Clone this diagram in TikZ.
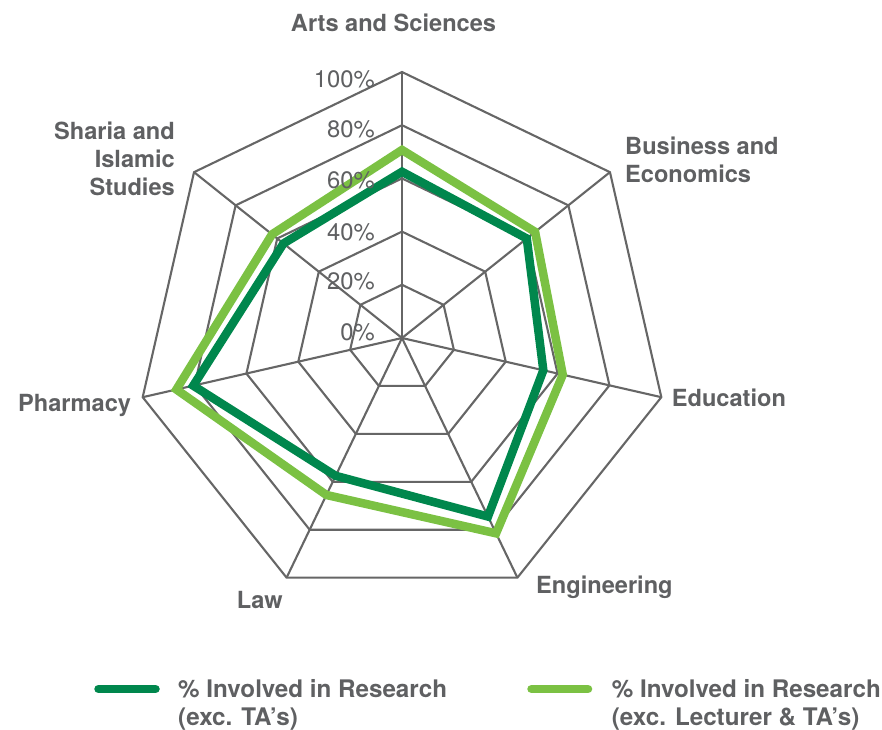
\documentclass[tikz,border=0pt]{standalone}
\usepackage{fontspec}
\setmainfont{TeX Gyre Heros}
\usetikzlibrary{calc}
\definecolor{gridgray}{HTML}{666666}
\definecolor{txtgray}{HTML}{5F6062}
\definecolor{darkg}{HTML}{00874D}
\definecolor{lightg}{HTML}{7BC143}
\tikzset{
  gridline/.style={draw=gridgray, line width=2.1pt, line join=miter},
  serieslight/.style={draw=lightg, line width=8.5pt, line join=miter},
  seriesdark/.style={draw=darkg, line width=8.5pt, line join=miter},
  legendlight/.style={draw=lightg, line width=8.5pt, line cap=round},
  legenddark/.style={draw=darkg, line width=8.5pt, line cap=round},
  catlabel/.style={text=txtgray, inner sep=0pt, font=\fontsize{23.6}{28.4}\selectfont\bfseries},
  legtext/.style={text=txtgray, inner sep=0pt, font=\fontsize{24.2}{28}\selectfont\bfseries},
  pctlabel/.style={text=txtgray, inner sep=0pt, font=\fontsize{23.8}{28}\selectfont, anchor=base east},
}
\begin{document}
\begin{tikzpicture}[x=1pt,y=-1pt]
\useasboundingbox (0,0) rectangle (882,729);
\coordinate (c) at (402,338);
% rings
\foreach \r in {1,...,5} {
  \draw[gridline] ($(c)+(90:{53.2pt*\r})$)
    \foreach \k in {1,...,6} { -- ($(c)+({90-\k*360/7}:{53.2pt*\r})$) } -- cycle;
}
% spokes
\foreach \k in {0,...,6} {
  \coordinate (v\k) at ($(c)+({90-\k*360/7}:266pt)$);
  \draw[gridline] (c) -- (v\k);
}
% data
\foreach \v [count=\i from 0] in {70.7,64,62,81.5,65.5,87,62.5} {
  \coordinate (l\i) at ($(c)+({90-\i*360/7}:{2.66pt*\v})$);
}
\foreach \v [count=\i from 0] in {62.5,60,54.5,74.5,57.5,80.5,57} {
  \coordinate (d\i) at ($(c)+({90-\i*360/7}:{2.66pt*\v})$);
}
\draw[serieslight] (l0) -- (l1) -- (l2) -- (l3) -- (l4) -- (l5) -- (l6) -- cycle;
\draw[seriesdark] (d0) -- (d1) -- (d2) -- (d3) -- (d4) -- (d5) -- (d6) -- cycle;
% percent labels
\node[pctlabel] (p100) at (375,87.3) {100\%};
\node[pctlabel] (p80) at (375,137.5) {80\%};
\node[pctlabel] (p60) at (375,188.5) {60\%};
\node[pctlabel] (p40) at (375,240) {40\%};
\node[pctlabel] (p20) at (375,289.5) {20\%};
\node[pctlabel] (p0) at (375,340) {0\%};
% category labels
\node[catlabel, anchor=base] (arts) at (393.5,31.7) {Arts and Sciences};
\node[catlabel, anchor=north west, align=left] (bus) at (625,136.3) {Business and\\Economics};
\node[catlabel, anchor=base west] (edu) at (671.7,406.7) {Education};
\node[catlabel, anchor=base west] (eng) at (536,593.3) {Engineering};
\node[catlabel, anchor=base west] (law) at (236.7,608.3) {Law};
\node[catlabel, anchor=base west] (pha) at (18,411.7) {Pharmacy};
\node[catlabel, anchor=north east, align=right] (sha) at (175,121.3) {Sharia and\\Islamic\\Studies};
% legend
\coordinate (ld1) at (98.5,689);
\coordinate (ld2) at (155.5,689);
\draw[legenddark] (ld1) -- (ld2);
\node[legtext, anchor=north west, align=left] (legd) at (178,679.3) {\% Involved in Research\\(exc. TA’s)};
\coordinate (ll1) at (531.5,689);
\coordinate (ll2) at (588,689);
\draw[legendlight] (ll1) -- (ll2);
\node[legtext, anchor=north west, align=left] (legl) at (611.7,679.3) {\% Involved in Research\\(exc. Lecturer \& TA’s)};
\end{tikzpicture}
\end{document}
